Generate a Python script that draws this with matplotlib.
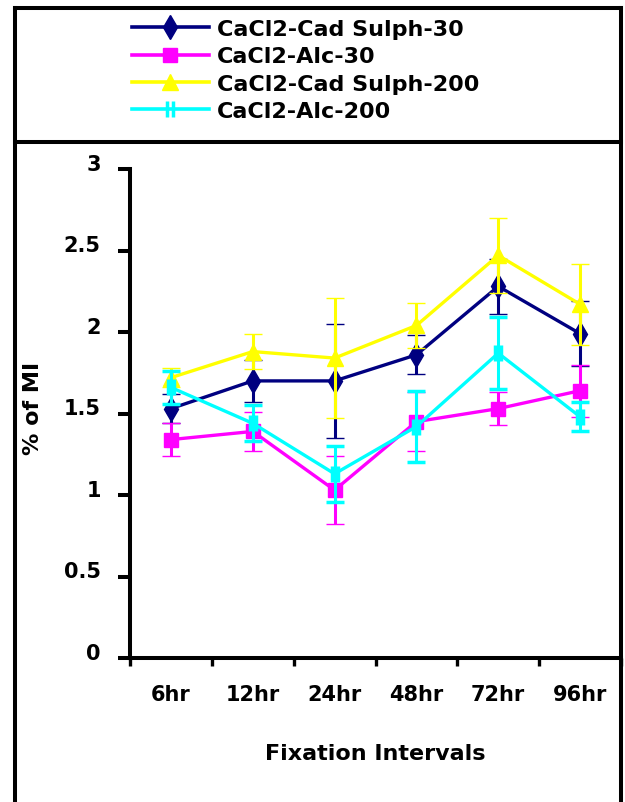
import matplotlib
matplotlib.use("Agg")
import matplotlib.pyplot as plt
import matplotlib.path as mpath
import matplotlib.transforms as mtransforms
from matplotlib.lines import Line2D
import numpy as np

# ---- data ----
categories = ['6hr', '12hr', '24hr', '48hr', '72hr', '96hr']
labels = ['CaCl2-Cad Sulph-30', 'CaCl2-Alc-30', 'CaCl2-Cad Sulph-200', 'CaCl2-Alc-200']
sulph30 = [1.53, 1.70, 1.70, 1.86, 2.28, 1.99]
sulph30_err = [0.09, 0.13, 0.35, 0.12, 0.17, 0.20]
alc30 = [1.34, 1.39, 1.03, 1.45, 1.53, 1.64]
alc30_err = [0.10, 0.12, 0.21, 0.18, 0.10, 0.16]
sulph200 = [1.72, 1.88, 1.84, 2.04, 2.47, 2.17]
sulph200_err = [0.06, 0.11, 0.37, 0.14, 0.23, 0.25]
alc200 = [1.66, 1.44, 1.13, 1.42, 1.87, 1.48]
alc200_err = [0.10, 0.11, 0.17, 0.22, 0.22, 0.09]
yticks = [0, 0.5, 1, 1.5, 2, 2.5, 3]
ytick_labels = ['0', '0.5', '1', '1.5', '2', '2.5', '3']

W, H = 625, 803
fig = plt.figure(figsize=(W / 100, H / 100), dpi=100)
plt.rcParams['font.family'] = ['DejaVu Sans']

ax = fig.add_axes([130 / W, 1 - 659 / H, (621 - 130) / W, (659 - 170) / H])

bars = mpath.Path([(-0.45, -1), (-0.45, 1), (0.45, -1), (0.45, 1)],
                  [mpath.Path.MOVETO, mpath.Path.LINETO, mpath.Path.MOVETO, mpath.Path.LINETO])

series = [
    (sulph30, sulph30_err, '#000080', 'd', 12),
    (alc30, alc30_err, '#FF00FF', 's', 10),
    (sulph200, sulph200_err, '#FFFF00', '^', 11),
    (alc200, alc200_err, '#00FFFF', bars, 11),
]

x = np.arange(len(categories)) + 0.5
handles = []
for i, (vals, errs, col, mk, ms) in enumerate(series):
    ax.errorbar(x, vals, yerr=errs, color=col, lw=2.4, marker=mk, ms=ms,
                mfc=col, mec=col, mew=2.5 if mk is bars else 1,
                elinewidth=2.2, capsize=6.8, capthick=2.3, zorder=3 + i,
                clip_on=False)
    handles.append(Line2D([], [], color=col, lw=2.6, marker=mk, ms=ms,
                          mfc=col, mec=col, mew=2.5 if mk is bars else 1))

ax.set_xlim(0, 6)
ax.set_ylim(0, 3)
for s in ['top', 'right']:
    ax.spines[s].set_visible(False)
for s in ['left', 'bottom']:
    ax.spines[s].set_linewidth(2.9)
    ax.spines[s].set_color('black')

ax.set_xticks(np.arange(0, 7))
ax.set_xticklabels([])
ax.set_xticks(x, minor=True)
ax.set_xticklabels(categories, minor=True, fontsize=15, fontweight='bold')
ax.tick_params(axis='x', which='major', direction='out', length=6, width=2.4, color='black')
ax.tick_params(axis='x', which='minor', length=0, pad=19)

ax.set_yticks(yticks)
ax.set_yticklabels(ytick_labels, fontsize=15, fontweight='bold')
ax.tick_params(axis='y', direction='out', length=9, width=2.9, pad=12)
offset = mtransforms.ScaledTranslation(0, 7 / 100, fig.dpi_scale_trans)
for lab in ax.get_yticklabels():
    lab.set_transform(lab.get_transform() + offset)

ax.set_ylabel('% of MI', fontsize=16, fontweight='bold')
ax.yaxis.set_label_coords((43 - 130) / 491, (659 - 408) / 489)
ax.set_xlabel('Fixation Intervals', fontsize=16, fontweight='bold')
ax.xaxis.set_label_coords(0.5, (659 - 744) / 489)

# frames
lw = 2.9
def fline(x0, y0, x1, y1):
    fig.add_artist(Line2D([x0 / W, x1 / W], [1 - y0 / H, 1 - y1 / H],
                          color='black', lw=lw, transform=fig.transFigure,
                          solid_capstyle='projecting'))
fline(15, 9, 621, 9)
fline(15, 9, 15, 803)
fline(621, 9, 621, 803)
fline(15, 143, 621, 143)

leg = fig.legend(handles, labels, loc='upper left',
                 bbox_to_anchor=(132 / W, 1 - 20 / H), frameon=False,
                 prop={'size': 16, 'weight': 'bold'}, handlelength=3.45,
                 handletextpad=0.36, labelspacing=0.33, borderpad=0,
                 borderaxespad=0)

fig.savefig('out.png', dpi=100)
